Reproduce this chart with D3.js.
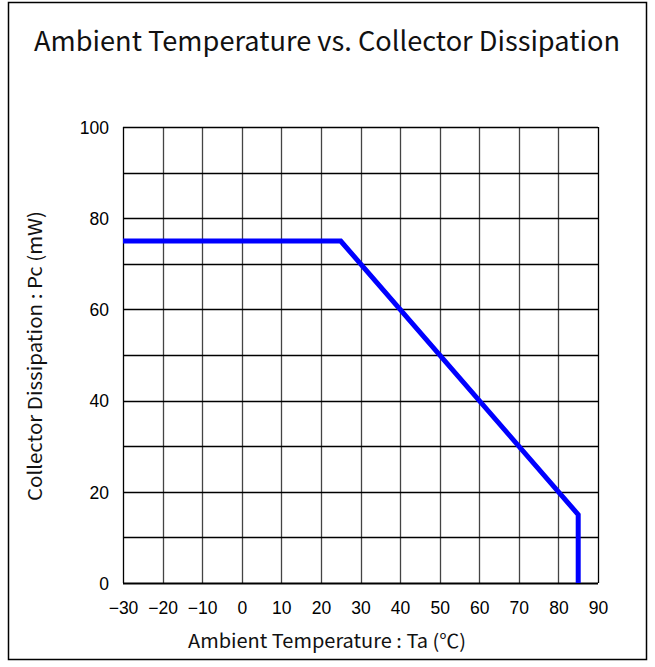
<!DOCTYPE html>
<html><head><meta charset="utf-8">
<script src="https://cdn.jsdelivr.net/npm/d3@7"></script>
<style>body{margin:0;background:#fff}svg{display:block}</style>
</head><body>
<script>
const titleText = "Ambient Temperature vs. Collector Dissipation";
const xLabel = "Ambient Temperature : Ta (℃)";
const yLabel = "Collector Dissipation : Pc (mW)";
const xTicks = [-30,-20,-10,0,10,20,30,40,50,60,70,80,90];
const yTicks = [0,20,40,60,80,100];
const yGrid = [0,10,20,30,40,50,60,70,80,90,100];
const tempC = [-30, 25, 85, 85];
const pcMW = [75, 75, 15, 0];

const W = 655, H = 667;
const svg = d3.select("body").append("svg").attr("width", W).attr("height", H);
svg.append("rect").attr("x", 8.5).attr("y", 2.5).attr("width", 638).attr("height", 657)
  .attr("fill", "#fff").attr("stroke", "#000").attr("stroke-width", 1.5);

const x = d3.scaleLinear().domain([-30, 90]).range([123, 598]);
const y = d3.scaleLinear().domain([0, 100]).range([583, 127]);

const g = svg.append("g");
g.selectAll(".vg").data(xTicks).join("line")
  .attr("x1", d => Math.round(x(d)) + 0.5).attr("x2", d => Math.round(x(d)) + 0.5)
  .attr("y1", y(0)).attr("y2", y(100))
  .attr("stroke", (d, i) => (i === 0 || i === xTicks.length - 1) ? "#000" : "#444")
  .attr("stroke-width", 1.3);
g.selectAll(".hg").data(yGrid).join("line")
  .attr("y1", d => Math.round(y(d)) + 0.5).attr("y2", d => Math.round(y(d)) + 0.5)
  .attr("x1", x(-30)).attr("x2", x(90)).attr("stroke", "#000")
  .attr("stroke-width", d => d === 0 ? 2 : 1.3);

const tf = "'Liberation Sans', Arial, sans-serif";
const xAxis = d3.axisBottom(x).tickValues(xTicks).tickSize(0).tickPadding(0)
  .tickFormat(d => d < 0 ? "\u2212" + Math.abs(d) : String(d));
const xa = svg.append("g").attr("transform", `translate(0,${y(0)})`).call(xAxis);
xa.select(".domain").remove();
xa.selectAll("text").attr("dy", null).attr("y", 31)
  .attr("font-family", tf).attr("font-size", 17.5).attr("fill", "#000");

const yAxis = d3.axisLeft(y).tickValues(yTicks).tickSize(0).tickPadding(0);
const ya = svg.append("g").attr("transform", `translate(${x(-30)},0)`).call(yAxis);
ya.select(".domain").remove();
ya.selectAll("text").attr("x", -14).attr("dy", "0.36em")
  .attr("font-family", tf).attr("font-size", 17.5).attr("fill", "#000");

const line = d3.line().x(d => x(d[0])).y(d => y(d[1]));
svg.append("path").datum(tempC.map((t, i) => [t, pcMW[i]]))
  .attr("d", line).attr("fill", "none").attr("stroke", "#0000ff").attr("stroke-width", 5)
  .attr("stroke-linejoin", "miter");

const hf = "'Noto Sans CJK JP', 'Open Sans', sans-serif";
svg.append("text").attr("x", 327).attr("y", 51).attr("text-anchor", "middle")
  .attr("font-family", hf).attr("font-size", 27).attr("fill", "#111")
  .attr("textLength", 586).attr("lengthAdjust", "spacingAndGlyphs").text(titleText);
svg.append("text").attr("x", 327).attr("y", 648).attr("text-anchor", "middle")
  .attr("font-family", hf).attr("font-size", 19).attr("fill", "#111")
  .attr("textLength", 278).attr("lengthAdjust", "spacingAndGlyphs").text(xLabel);
svg.append("text").attr("transform", "translate(42,356) rotate(-90)").attr("text-anchor", "middle")
  .attr("font-family", hf).attr("font-size", 19).attr("fill", "#111")
  .attr("textLength", 290).attr("lengthAdjust", "spacingAndGlyphs").text(yLabel);
</script>
</body></html>
